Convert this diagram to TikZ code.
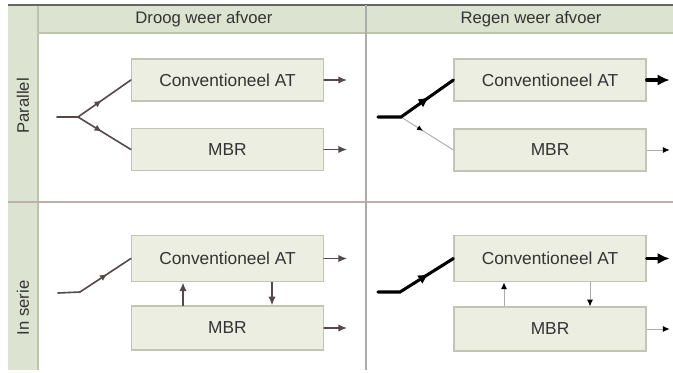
\documentclass[tikz,border=0pt]{standalone}
\usepackage{fontspec}
\setmainfont{Liberation Sans}
\usetikzlibrary{arrows.meta,decorations.markings}

\definecolor{stripgreen}{RGB}{220,227,208}
\definecolor{stripline}{RGB}{188,196,172}
\definecolor{boxfill}{RGB}{235,238,224}
\definecolor{boxline}{RGB}{196,196,180}
\definecolor{flowgrey}{RGB}{84,72,72}
\definecolor{idlegrey}{RGB}{172,172,172}
\definecolor{textgrey}{RGB}{52,52,52}
\definecolor{rowline}{RGB}{190,176,170}

\tikzset{
  unit/.style={draw=boxline, fill=boxfill, line width=0.9pt, minimum width=144pt,
    minimum height=31.5pt, text=textgrey, font=\fontsize{13}{15}\selectfont},
  label/.style={text=textgrey, font=\fontsize{12.5}{15}\selectfont},
  flow/.style={draw=flowgrey, line width=1.2pt, line cap=round},
  heavy/.style={draw=black, line width=2.3pt, line cap=round},
  idle/.style={draw=idlegrey, line width=0.7pt},
  flowout/.style={flow, -{Latex[length=6.5pt,width=5.5pt]}},
  heavyout/.style={heavy, -{Latex[length=9pt,width=8.5pt]}},
  idleout/.style={idle, -{Latex[length=5pt,width=4.5pt,color=black]}},
  midarrow/.style={postaction={decorate}, decoration={markings,
    mark=at position #1 with {\arrow{Latex[length=5.5pt,width=5pt]}}}},
  bigmid/.style={postaction={decorate}, decoration={markings,
    mark=at position #1 with {\arrow{Latex[length=8pt,width=7.5pt]}}}},
  idlemid/.style={postaction={decorate}, decoration={markings,
    mark=at position #1 with {\arrow[black]{Latex[length=4.5pt,width=4pt]}}}},
}

\begin{document}
\begin{tikzpicture}[x=0.75pt, y=-0.75pt]
\useasboundingbox (0,0) rectangle (673,372);

% table grid
\fill[stripgreen] (8,5) rectangle (38,370);
\fill[stripgreen] (38,5) rectangle (673,33);
\draw[stripline, line width=0.9pt] (38,5) -- (38,370);
\draw[stripline, line width=0.9pt] (38,33) -- (673,33);
\draw[gray!80!black, line width=1.3pt] (8,5) -- (673,5);
\draw[rowline, line width=0.8pt] (8,202) -- (673,202);
\draw[idlegrey, line width=1.5pt] (366,5) -- (366,370);

% headings
\node[label] (dry) at (204,19) {Droog weer afvoer};
\node[label] (wet) at (531,19) {Regen weer afvoer};
\node[label, rotate=90] (par) at (23,106) {Parallel};
\node[label, rotate=90] (ser) at (23,308) {In serie};

% treatment units
\node[unit] (cdp) at (227.5,80) {Conventioneel AT};
\node[unit] (mdp) at (227.5,149.5) {MBR};
\node[unit] (crp) at (550,80) {Conventioneel AT};
\node[unit] (mrp) at (550,150) {MBR};
\node[unit, minimum height=35pt] (cds) at (227.5,258.5) {Conventioneel AT};
\node[unit, minimum height=33pt] (mds) at (227.5,328) {MBR};
\node[unit, minimum height=35pt] (crs) at (550,258.5) {Conventioneel AT};
\node[unit, minimum height=33pt] (mrs) at (550,329) {MBR};

% inflow
\coordinate (indp) at (57,117);  \coordinate (spdp) at (78,117);
\coordinate (inrp) at (378,117); \coordinate (sprp) at (401,117);
\coordinate (inds) at (58,293);  \coordinate (spds) at (80,292);
\coordinate (inrs) at (378,292); \coordinate (sprs) at (400,292);

\draw[flow] (indp) -- (spdp);
\draw[flow, midarrow=0.45] (spdp) -- (cdp.west);
\draw[flow, midarrow=0.45] (spdp) -- (mdp.west);
\draw[idle, idlemid=0.42] (sprp) -- (mrp.west);
\draw[heavy, bigmid=0.66] (inrp) -- (sprp) -- (crp.west);
\draw[flow, midarrow=0.66] (inds) -- (spds) -- (cds.west);
\draw[heavy, bigmid=0.66] (inrs) -- (sprs) -- (crs.west);

% outflow
\foreach \n in {cdp,mdp,cds,mds,crp,mrp,crs,mrs}
  \path (\n.east) ++(23,0) coordinate (\n-out);
\foreach \n in {cdp,mdp,cds,mds}
  \draw[flowout] (\n.east) -- (\n-out);
\draw[heavyout] (crp.east) -- (crp-out);
\draw[heavyout] (crs.east) -- (crs-out);
\draw[idleout] (mrp.east) -- (mrp-out);
\draw[idleout] (mrs.east) -- (mrs-out);

% exchange between units
\draw[flowout] (mds.north -| 183,0) -- (cds.south -| 183,0);
\draw[flowout] (cds.south -| 272,0) -- (mds.north -| 272,0);
\draw[idleout] (mrs.north -| 504,0) -- (crs.south -| 504,0);
\draw[idleout] (crs.south -| 590,0) -- (mrs.north -| 590,0);
\end{tikzpicture}
\end{document}
